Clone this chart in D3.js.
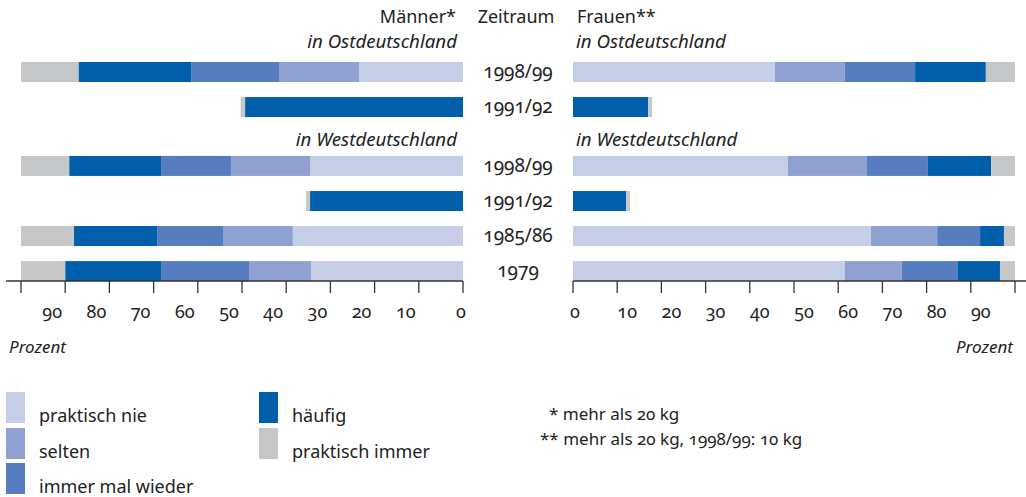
<!DOCTYPE html>
<html>
<head>
<meta charset="utf-8">
<script src="https://cdn.jsdelivr.net/npm/d3@7"></script>
<style>
  body { margin: 0; background: #fff; }
  text { font-family: "Noto Sans", "Open Sans", sans-serif; fill: #222; font-variant-numeric: oldstyle-nums; }
  .it { font-style: italic; }
</style>
</head>
<body>
<div id="chart"></div>
<script>
// categories (top to bottom)
let regions = ["Ost", "Ost", "West", "West", "West", "West"];
let periods = ["1998/99", "1991/92", "1998/99", "1991/92", "1985/86", "1979"];
let series = ["praktisch nie", "selten", "immer mal wieder", "häufig", "praktisch immer"];

// Männer (Prozent)
let menNie = [23.5, 0, 34.6, 0, 38.5, 34.4];
let menSelten = [18, 0, 17.9, 0, 15.8, 14];
let menImmerMal = [20, 0, 15.8, 0, 14.9, 19.9];
let menHaeufig = [25.5, 49.3, 20.8, 34.6, 18.8, 21.7];
let menImmer = [13, 1, 10.9, 0.9, 12, 10];

// Frauen (Prozent)
let womenNie = [45.7, 0, 48.6, 0, 67.4, 61.5];
let womenSelten = [15.8, 0, 17.9, 0, 15, 12.9];
let womenImmerMal = [15.9, 0, 13.8, 0, 9.7, 12.7];
let womenHaeufig = [16, 17, 14.3, 12, 5.4, 9.5];
let womenImmer = [6.6, 0.9, 5.4, 0.9, 2.5, 3.4];

let tickValues = [0, 10, 20, 30, 40, 50, 60, 70, 80, 90, 100];
let leftLabels = [90, 80, 70, 60, 50, 40, 30, 20, 10, 0];
let rightLabels = [0, 10, 20, 30, 40, 50, 60, 70, 80, 90];

let colors = ["#c6cde7", "#8ea1d0", "#567dc0", "#005eab", "#c6c7c9"];

let svg = d3.select("#chart").append("svg")
    .attr("width", 1026)
    .attr("height", 497);

let xL = d3.scaleLinear().domain([0, 100]).range([463, 21]);
let xR = d3.scaleLinear().domain([0, 100]).range([573, 1015]);

// rows: extra gap before Westdeutschland
let slot = periods.map((p, i) => i + (i >= 2 ? 0.68 : 0));
let y = d3.scaleLinear().domain([0, 1]).range([62, 97.05]);
let barH = 20;

function rows(arrs) {
    return periods.map((p, i) => {
        let r = { period: p, region: regions[i], i: i };
        series.forEach((s, k) => r[s] = arrs[k][i]);
        return r;
    });
}
let menRows = rows([menNie, menSelten, menImmerMal, menHaeufig, menImmer]);
let womenRows = rows([womenNie, womenSelten, womenImmerMal, womenHaeufig, womenImmer]);

let stack = d3.stack().keys(series);

function drawBars(data, x, left) {
    let g = svg.append("g");
    g.selectAll("g")
        .data(stack(data))
        .enter().append("g")
        .attr("fill", (d, k) => colors[k])
        .selectAll("rect")
        .data(d => d.filter(v => v[1] - v[0] > 0))
        .enter().append("rect")
        .attr("x", d => left ? x(d[1]) : x(d[0]))
        .attr("width", d => Math.abs(x(d[1]) - x(d[0])))
        .attr("y", d => y(slot[d.data.i]))
        .attr("height", barH);
}
drawBars(menRows, xL, true);
drawBars(womenRows, xR, false);

// axes
let axisY = 281;
function drawAxis(x, x1, x2, labels, off) {
    let g = svg.append("g").attr("stroke", "#333").attr("stroke-width", 1.3);
    g.append("line").attr("x1", x1).attr("x2", x2).attr("y1", axisY).attr("y2", axisY);
    g.selectAll(".tk")
        .data(tickValues)
        .enter().append("line")
        .attr("x1", d => x(d)).attr("x2", d => x(d))
        .attr("y1", axisY).attr("y2", axisY + 12);
    svg.append("g").selectAll("text")
        .data(labels)
        .enter().append("text")
        .attr("x", d => x(d) + (d === 0 ? off[0] : off[1]))
        .attr("y", 318)
        .attr("text-anchor", "middle")
        .style("font-size", "18px")
        .text(d => d);
}
drawAxis(xL, 6, 463, leftLabels, [-2, -13]);
drawAxis(xR, 573, 1026, rightLabels, [2, 10]);

// period labels
svg.append("g").selectAll("text")
    .data(periods)
    .enter().append("text")
    .attr("x", 518)
    .attr("y", (d, i) => y(slot[i]) + barH / 2 + 6)
    .attr("text-anchor", "middle")
    .style("font-size", "19px")
    .text(d => d);

// headers
function label(t, x, yy, anchor, cls, size) {
    svg.append("text")
        .attr("x", x).attr("y", yy)
        .attr("text-anchor", anchor)
        .attr("class", cls || null)
        .style("font-size", (size || 18) + "px")
        .text(t);
}
label("Männer*", 456, 23, "end");
label("Zeitraum", 516, 23, "middle");
label("Frauen**", 577, 23, "start");
label("in Ostdeutschland", 457, 48, "end", "it", 18.7);
label("in Ostdeutschland", 576, 48, "start", "it", 18.7);
label("in Westdeutschland", 457, 146, "end", "it", 18.7);
label("in Westdeutschland", 576, 146, "start", "it", 18.7);
label("Prozent", 9, 353, "start", "it", 17);
label("Prozent", 1013, 353, "end", "it", 17);

// legend
let legendPos = [[6, 392], [6, 428], [6, 463], [259, 392], [259, 428]];
let leg = svg.append("g").selectAll("g")
    .data(series)
    .enter().append("g")
    .attr("transform", (d, i) => `translate(${legendPos[i][0]},${legendPos[i][1]})`);
leg.append("rect")
    .attr("width", 19).attr("height", 31)
    .attr("fill", (d, i) => colors[i]);
leg.append("text")
    .attr("x", 33).attr("y", 30)
    .style("font-size", "18px")
    .text(d => d);

label("* mehr als 20 kg", 549, 420, "start", null, 17);
label("** mehr als 20 kg, 1998/99: 10 kg", 540, 445, "start", null, 17);
</script>
</body>
</html>
